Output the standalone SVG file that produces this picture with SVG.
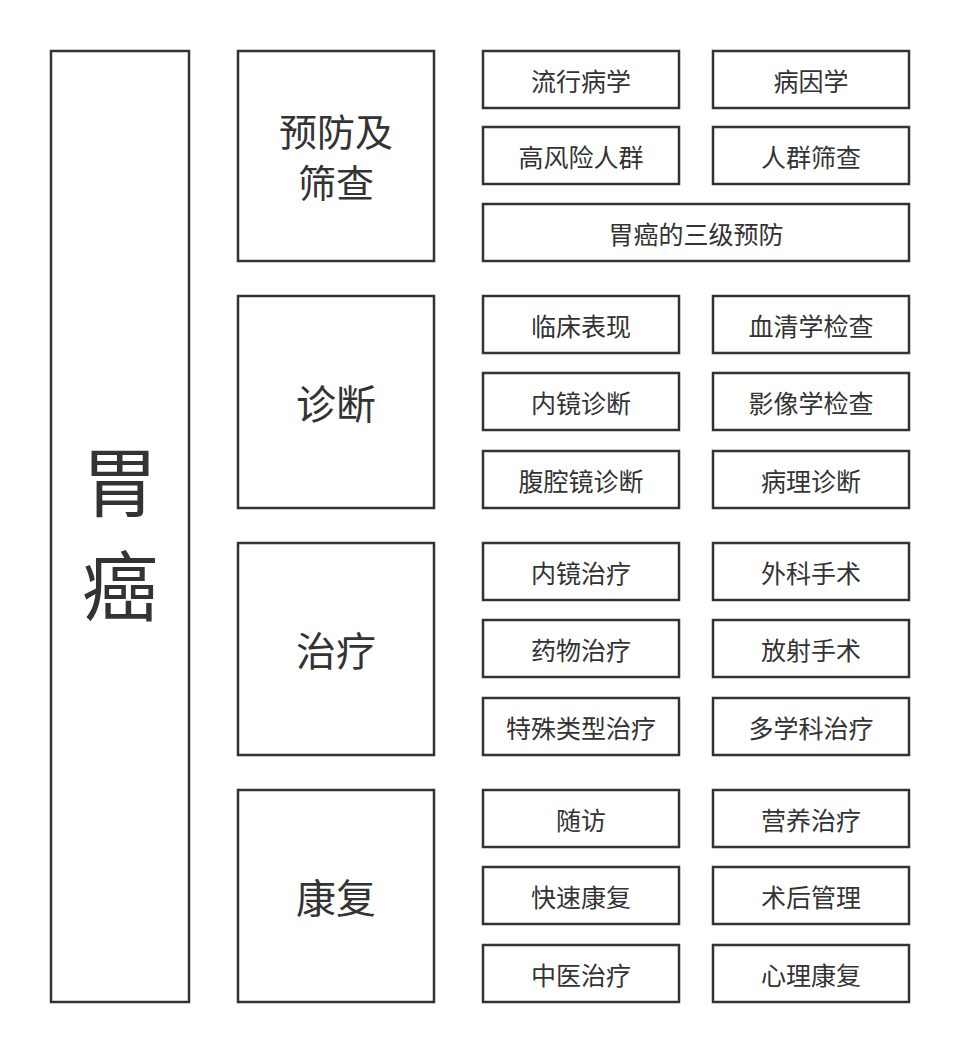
<svg xmlns="http://www.w3.org/2000/svg" width="960" height="1053" viewBox="0 0 960 1053">
<style>
rect{fill:#fff;stroke:#333;stroke-width:2.5}
text{font-family:"Noto Sans CJK SC",sans-serif;fill:#333;text-anchor:middle;dominant-baseline:central}
.s{font-size:25px}.c{font-size:40px}.m{font-size:76px}
</style>
<rect x="0" y="0" width="960" height="1053" style="stroke:none"/>
<g id="main"><rect x="51" y="51" width="138" height="951"/><text class="m" x="120" y="478">胃</text><text class="m" x="120" y="582">癌</text></g>
<g id="cat1"><rect x="238" y="51" width="196" height="210"/><text class="c" x="336" y="129" style="font-size:38px">预防及</text><text class="c" x="336" y="180" style="font-size:38px">筛查</text></g>
<g id="cat2"><rect x="238" y="296" width="196" height="212"/><text class="c" x="336" y="402">诊断</text></g>
<g id="cat3"><rect x="238" y="543" width="196" height="212"/><text class="c" x="336" y="649">治疗</text></g>
<g id="cat4"><rect x="238" y="790" width="196" height="212"/><text class="c" x="336" y="896">康复</text></g>
<g id="n1"><rect x="483" y="51" width="196" height="57"/><text class="s" x="581" y="80">流行病学</text></g>
<g id="n2"><rect x="713" y="51" width="196" height="57"/><text class="s" x="811" y="80">病因学</text></g>
<g id="n3"><rect x="483" y="127" width="196" height="57"/><text class="s" x="581" y="156">高风险人群</text></g>
<g id="n4"><rect x="713" y="127" width="196" height="57"/><text class="s" x="811" y="156">人群筛查</text></g>
<g id="n5"><rect x="483" y="204" width="426" height="57"/><text class="s" x="696" y="233">胃癌的三级预防</text></g>
<g id="n6"><rect x="483" y="296" width="196" height="57"/><text class="s" x="581" y="325">临床表现</text></g>
<g id="n7"><rect x="713" y="296" width="196" height="57"/><text class="s" x="811" y="325">血清学检查</text></g>
<g id="n8"><rect x="483" y="373" width="196" height="57"/><text class="s" x="581" y="402">内镜诊断</text></g>
<g id="n9"><rect x="713" y="373" width="196" height="57"/><text class="s" x="811" y="402">影像学检查</text></g>
<g id="n10"><rect x="483" y="451" width="196" height="57"/><text class="s" x="581" y="480">腹腔镜诊断</text></g>
<g id="n11"><rect x="713" y="451" width="196" height="57"/><text class="s" x="811" y="480">病理诊断</text></g>
<g id="n12"><rect x="483" y="543" width="196" height="57"/><text class="s" x="581" y="572">内镜治疗</text></g>
<g id="n13"><rect x="713" y="543" width="196" height="57"/><text class="s" x="811" y="572">外科手术</text></g>
<g id="n14"><rect x="483" y="620" width="196" height="57"/><text class="s" x="581" y="649">药物治疗</text></g>
<g id="n15"><rect x="713" y="620" width="196" height="57"/><text class="s" x="811" y="649">放射手术</text></g>
<g id="n16"><rect x="483" y="698" width="196" height="57"/><text class="s" x="581" y="727">特殊类型治疗</text></g>
<g id="n17"><rect x="713" y="698" width="196" height="57"/><text class="s" x="811" y="727">多学科治疗</text></g>
<g id="n18"><rect x="483" y="790" width="196" height="57"/><text class="s" x="581" y="819">随访</text></g>
<g id="n19"><rect x="713" y="790" width="196" height="57"/><text class="s" x="811" y="819">营养治疗</text></g>
<g id="n20"><rect x="483" y="867" width="196" height="57"/><text class="s" x="581" y="896">快速康复</text></g>
<g id="n21"><rect x="713" y="867" width="196" height="57"/><text class="s" x="811" y="896">术后管理</text></g>
<g id="n22"><rect x="483" y="945" width="196" height="57"/><text class="s" x="581" y="974">中医治疗</text></g>
<g id="n23"><rect x="713" y="945" width="196" height="57"/><text class="s" x="811" y="974">心理康复</text></g>
<g id="connectors"></g>
</svg>
